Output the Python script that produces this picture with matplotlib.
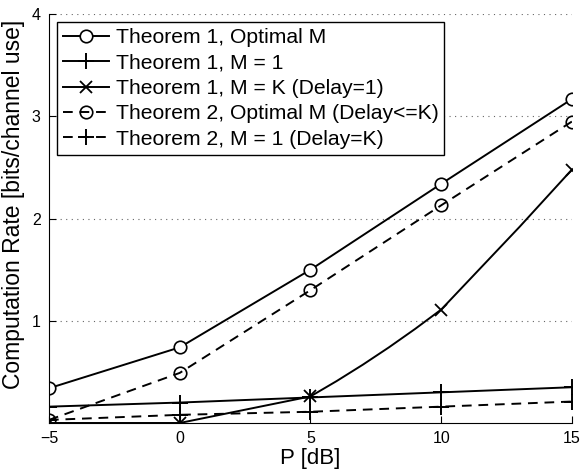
import matplotlib
matplotlib.use("Agg")
import matplotlib.pyplot as plt

plt.rcParams["font.family"] = ["Liberation Sans", "DejaVu Sans"]

# transmit power [dB]
p_db = [-5, 0, 5, 10, 15]
# finer grid for Theorem 1, M = K curve (markers only every 5 dB)
p_db_fine = [-5, 0, 5, 6, 7, 8, 9, 10, 11, 12, 13, 14, 15]

thm1_opt = [0.34, 0.74, 1.50, 2.34, 3.17]
thm1_m1 = [0.16, 0.20, 0.25, 0.30, 0.35]
thm1_mk = [0.00, 0.00, 0.26, 0.41, 0.57, 0.74, 0.92, 1.11, 1.38, 1.65, 1.92, 2.20, 2.48]
thm2_opt = [0.03, 0.49, 1.30, 2.13, 2.95]
thm2_m1 = [0.03, 0.08, 0.11, 0.16, 0.21]

labels = [
    "Theorem 1, Optimal M",
    "Theorem 1, M = 1",
    "Theorem 1, M = K (Delay=1)",
    "Theorem 2, Optimal M (Delay<=K)",
    "Theorem 2, M = 1 (Delay=K)",
]

fig = plt.figure(figsize=(5.83, 4.74), dpi=100)
ax = fig.add_axes([0.084, 0.1076, 0.897, 0.8624])

lw = 1.4
dash = (0, (5, 3.5))
ax.plot(p_db, thm1_opt, "-", color="k", lw=lw, marker="o", ms=9,
        mfc="white", mec="k", mew=1.2, label=labels[0])
ax.plot(p_db, thm1_m1, "-", color="k", lw=lw, marker="+", ms=12,
        mew=1.4, label=labels[1])
ax.plot(p_db_fine, thm1_mk, "-", color="k", lw=lw, marker="x", ms=8,
        mew=1.3, markevery=[0, 1, 2, 7, 12], label=labels[2])
ax.plot(p_db, thm2_opt, linestyle=dash, color="k", lw=lw, marker="o", ms=9,
        mfc="none", mec="k", mew=1.2, label=labels[3])
ax.plot(p_db, thm2_m1, linestyle=dash, color="k", lw=lw, marker="+", ms=12,
        mew=1.4, label=labels[4])

ax.set_xlim(-5, 15)
ax.set_ylim(0, 4)
ax.set_xticks([-5, 0, 5, 10, 15])
ax.set_xticklabels(["\u22125", "0", "5", "10", "15"])
ax.set_yticks([1, 2, 3, 4])
ax.tick_params(direction="in", length=5, width=0.8, labelsize=11.5, pad=6)
ax.yaxis.grid(True, linestyle=(0, (1, 4)), color="#666666", lw=0.8)
ax.set_axisbelow(True)
for side in ["top", "right"]:
    ax.spines[side].set_visible(False)
for side in ["left", "bottom"]:
    ax.spines[side].set_linewidth(0.8)

ax.set_xlabel("P [dB]", fontsize=16, labelpad=1)
ax.set_ylabel("Computation Rate [bits/channel use]", fontsize=16.5)
ax.yaxis.set_label_coords(-0.046, 0.535)

leg = ax.legend(loc="upper left", bbox_to_anchor=(0.015, 0.98), fontsize=15.2,
                frameon=True, fancybox=False, edgecolor="k", framealpha=1,
                handlelength=2.2, handletextpad=0.3, labelspacing=0.3,
                borderpad=0.28, borderaxespad=0)
leg.get_frame().set_linewidth(1.0)

fig.savefig("out.png", dpi=100)
